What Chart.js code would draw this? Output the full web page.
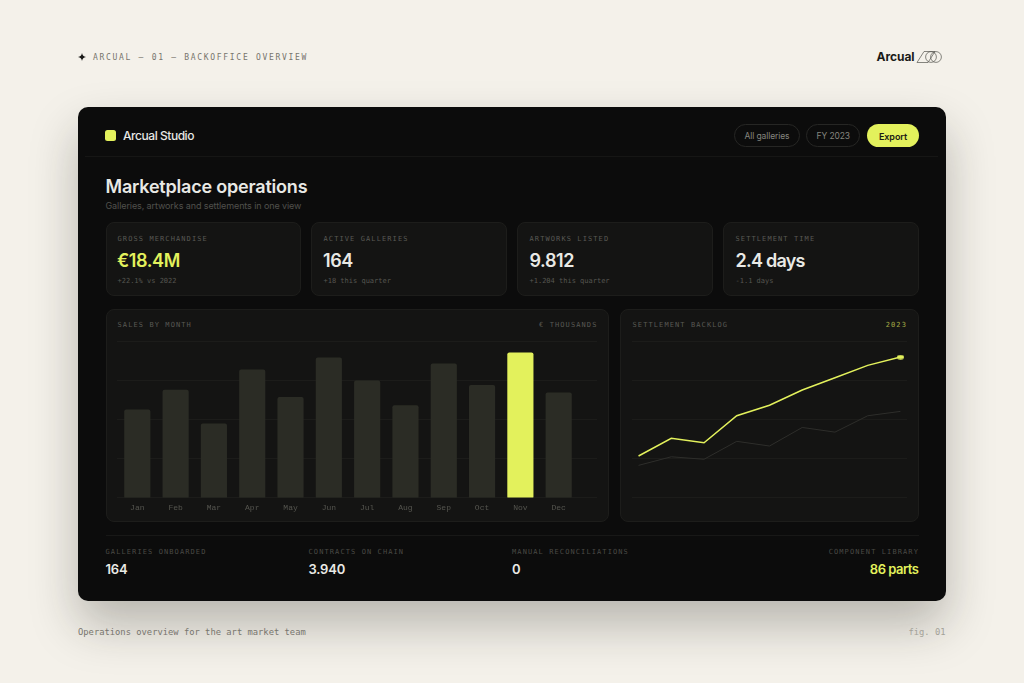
<!DOCTYPE html>
<html><head><meta charset="utf-8">
<script src="https://cdn.jsdelivr.net/npm/chart.js@4"></script>
<style>
html,body{margin:0;padding:0;width:1024px;height:683px;overflow:hidden;background:#f4f1ea}
.a{position:absolute;box-sizing:border-box}
.t{position:absolute;white-space:nowrap;transform:translateY(-50%);line-height:1;-webkit-font-smoothing:antialiased}
.r{transform:translate(-100%,-50%)}
.m{font-family:"DejaVu Sans Mono",monospace}
.s{font-family:Inter,sans-serif}
.lab{font-size:7px;letter-spacing:1.1px;color:#595954}
.note{font-size:7px;color:#565651}
.val{font-size:18px;font-weight:600;letter-spacing:-.4px;color:#efefec}
.bot{font-size:13px;font-weight:600;letter-spacing:-.2px;color:#efefec}
.card{background:#141413;border:1px solid #1d1d1b;border-radius:8px}
.pill{border:1px solid #262624;border-radius:12px}
canvas{position:absolute}
</style></head><body>
<svg class="a" style="left:78px;top:53px" width="8" height="8" viewBox="0 0 8 8"><path d="M4 0 Q4.5 3.5 8 4 Q4.5 4.5 4 8 Q3.5 4.5 0 4 Q3.5 3.5 4 0Z" fill="#1a1a18"/></svg>
<div class="t m" style="left:93px;top:58px;font-size:8px;letter-spacing:1.7px;color:#77756d">ARCUAL — 01 — BACKOFFICE OVERVIEW</div>
<div class="t s" style="left:876.5px;top:57px;font-size:12px;font-weight:700;letter-spacing:-.05px;color:#1a1a18">Arcual</div>
<svg class="a" style="left:916px;top:50px" width="27" height="14" viewBox="0 0 27 14" fill="none" stroke="#55554f" stroke-width=".7"><path d="M1 12.5 L8 1.5 H19 L12 12.5Z"/><circle cx="15" cy="7" r="5.4"/><circle cx="20" cy="7" r="5.4"/></svg>

<div class="a" style="left:78.3px;top:106.6px;width:867.4px;height:494.8px;background:#0c0c0c;border-radius:10px;box-shadow:0 24px 48px rgba(30,28,20,.28)"></div>
<div class="a" style="left:85px;top:156px;width:853px;height:1px;background:#161615"></div>
<div class="a" style="left:105px;top:130px;width:10.5px;height:10.5px;background:#e3f15c;border-radius:2.5px"></div>
<div class="t s" style="left:123px;top:136px;font-size:12px;font-weight:500;letter-spacing:-.45px;color:#e8e8e4">Arcual Studio</div>
<div class="a pill" style="left:733.5px;top:124px;width:66px;height:22.5px"></div>
<div class="t s" style="left:744.5px;top:135.5px;font-size:8.5px;letter-spacing:-.1px;color:#85857f">All galleries</div>
<div class="a pill" style="left:806px;top:124px;width:54px;height:22.5px"></div>
<div class="t s" style="left:816.5px;top:135.5px;font-size:8.5px;letter-spacing:-.1px;color:#85857f">FY 2023</div>
<div class="a" style="left:866.5px;top:123.5px;width:52.5px;height:23.2px;background:#e3f15c;border-radius:12px"></div>
<div class="t s" style="left:879px;top:135.5px;font-size:9px;font-weight:600;letter-spacing:-.1px;color:#1a1a14">Export</div>

<div class="t s" style="left:105.5px;top:186.5px;font-size:18px;font-weight:600;letter-spacing:-.2px;color:#e9e9e5">Marketplace operations</div>
<div class="t s" style="left:105.5px;top:205px;font-size:9px;letter-spacing:-.1px;color:#51514d">Galleries, artworks and settlements in one view</div>

<div class="a card" style="left:105.5px;top:222.3px;width:195.3px;height:74.2px"></div>
<div class="a card" style="left:311.3px;top:222.3px;width:195.4px;height:74.2px"></div>
<div class="a card" style="left:517.3px;top:222.3px;width:195.4px;height:74.2px"></div>
<div class="a card" style="left:723.3px;top:222.3px;width:195.4px;height:74.2px"></div>
<div class="t m lab" style="left:117.5px;top:238.5px">GROSS MERCHANDISE</div>
<div class="t s val" style="left:117px;top:261px;color:#e3f15c">€18.4M</div>
<div class="t m note" style="left:117.5px;top:280.5px">+22.1% vs 2022</div>
<div class="t m lab" style="left:323.5px;top:238.5px">ACTIVE GALLERIES</div>
<div class="t s val" style="left:323px;top:261px;color:#e9e9e5">164</div>
<div class="t m note" style="left:323.5px;top:280.5px">+18 this quarter</div>
<div class="t m lab" style="left:529.5px;top:238.5px">ARTWORKS LISTED</div>
<div class="t s val" style="left:529.5px;top:261px;color:#e9e9e5">9.812</div>
<div class="t m note" style="left:529.5px;top:280.5px">+1.204 this quarter</div>
<div class="t m lab" style="left:735.5px;top:238.5px">SETTLEMENT TIME</div>
<div class="t s val" style="left:735.5px;top:261px;letter-spacing:-.75px;color:#e9e9e5">2.4 days</div>
<div class="t m note" style="left:735.5px;top:280.5px">-1.1 days</div>

<div class="a card" style="left:105.5px;top:309px;width:503.8px;height:212.7px"></div>
<div class="a card" style="left:620.3px;top:309px;width:298.4px;height:212.7px"></div>
<div class="t m lab" style="left:117.5px;top:324.5px">SALES BY MONTH</div>
<div class="t m lab r" style="left:597.5px;top:324.5px">€ THOUSANDS</div>
<div class="t m lab" style="left:632.5px;top:324.5px">SETTLEMENT BACKLOG</div>
<div class="t m lab r" style="left:907px;top:324.5px;color:#a3ab45">2023</div>
<canvas id="bars" style="left:117px;top:338px;width:480px;height:180px"></canvas>
<canvas id="line" style="left:632px;top:338px;width:275px;height:164px"></canvas>

<div class="a" style="left:105.5px;top:535px;width:813px;height:1px;background:#181817"></div>
<div class="t m lab" style="left:105.5px;top:551.5px;color:#4a4a45">GALLERIES ONBOARDED</div>
<div class="t s bot" style="left:105.5px;top:568.5px;color:#e9e9e5">164</div>
<div class="t m lab" style="left:308.5px;top:551.5px;color:#4a4a45">CONTRACTS ON CHAIN</div>
<div class="t s bot" style="left:308.5px;top:568.5px;color:#e9e9e5">3.940</div>
<div class="t m lab" style="left:512px;top:551.5px;color:#4a4a45">MANUAL RECONCILIATIONS</div>
<div class="t s bot" style="left:512px;top:568.5px;color:#e9e9e5">0</div>
<div class="t m lab r" style="left:919px;top:551.5px;color:#4a4a45">COMPONENT LIBRARY</div>
<div class="t s bot r" style="left:918.5px;top:568.5px;letter-spacing:-.5px;color:#e3f15c">86 parts</div>

<div class="t m" style="left:78px;top:632px;font-size:8.8px;color:#77756d">Operations overview for the art market team</div>
<div class="t m r" style="left:945.5px;top:632px;font-size:8.8px;color:#a3a198">fig. 01</div>

<script>
const months = ["Jan","Feb","Mar","Apr","May","Jun","Jul","Aug","Sep","Oct","Nov","Dec"];
const sales = [1125,1376,946,1638,1283,1792,1497,1180,1715,1437,1856,1343];
const highlightMonth = "Nov";
const backlogPeriods = [0,1,2,3,4,5,6,7,8];
const backlog2023 = [26.6,37.9,35.1,52.4,59.1,68.9,76.8,84.7,90];
const backlog2022 = [20.6,26.1,24.5,36,33,44.9,41.9,52.4,55.2];

const LIME = "#e3f15c", BAR = "#2b2c25", GRID = "#1c1c1a";
Chart.defaults.animation = false;
Chart.defaults.responsive = false;
Chart.defaults.devicePixelRatio = 1;
Chart.defaults.plugins.legend.display = false;
Chart.defaults.plugins.tooltip.enabled = false;

function size(id,w,h){const c=document.getElementById(id);c.width=w;c.height=h;return c;}

new Chart(size("bars",480,180),{
  type:"bar",
  data:{datasets:[{
    data:months.map((m,i)=>({x:i,y:sales[i]})),
    backgroundColor:months.map(m=>m===highlightMonth?LIME:BAR),
    base:-13,barThickness:25.5,borderRadius:2,borderSkipped:false
  }]},
  options:{
    layout:{autoPadding:false,padding:{top:3.5,left:0,right:0,bottom:0}},
    scales:{
      x:{type:"linear",offset:false,min:-0.53,max:12,grid:{display:false,drawTicks:false},border:{display:false},
        afterBuildTicks:s=>{s.ticks=months.map((m,i)=>({value:i}));},
        afterFit:s=>{s.height=20.5;},
        ticks:{callback:v=>months[v],autoSkip:false,maxRotation:0,padding:5.5,
          color:"#55554f",font:{family:"'Liberation Mono'",size:8}}},
      y:{min:0,max:2000,grid:{color:GRID,lineWidth:1,drawTicks:false},border:{display:false},
        afterFit:s=>{s.width=0;},
        ticks:{display:false,stepSize:500}}
    }
  }
});

const dot=document.createElement("canvas");dot.width=7;dot.height=5;
const g=dot.getContext("2d");g.fillStyle=LIME;g.beginPath();g.ellipse(3.5,2.5,3.5,2.2,0,0,7);g.fill();

new Chart(size("line",275,164),{
  type:"line",
  data:{datasets:[
    {data:backlogPeriods.map((p,i)=>({x:p,y:backlog2023[i]})),borderColor:LIME,borderWidth:1.5,tension:0,
     pointStyle:backlogPeriods.map((p,i)=>i===backlogPeriods.length-1?dot:"circle"),
     pointRadius:backlogPeriods.map((p,i)=>i===backlogPeriods.length-1?3:0)},
    {data:backlogPeriods.map((p,i)=>({x:p,y:backlog2022[i]})),borderColor:"#2e2e2b",borderWidth:1,tension:0,pointRadius:0}
  ]},
  options:{
    layout:{autoPadding:false,padding:{top:3.5,bottom:4.5,left:0,right:0}},
    scales:{
      x:{type:"linear",min:-0.2,max:8.2,display:false},
      y:{min:0,max:100,grid:{color:GRID,lineWidth:1,drawTicks:false},border:{display:false},
        afterFit:s=>{s.width=0;},
        ticks:{display:false,stepSize:25}}
    }
  }
});
</script>
</body></html>
